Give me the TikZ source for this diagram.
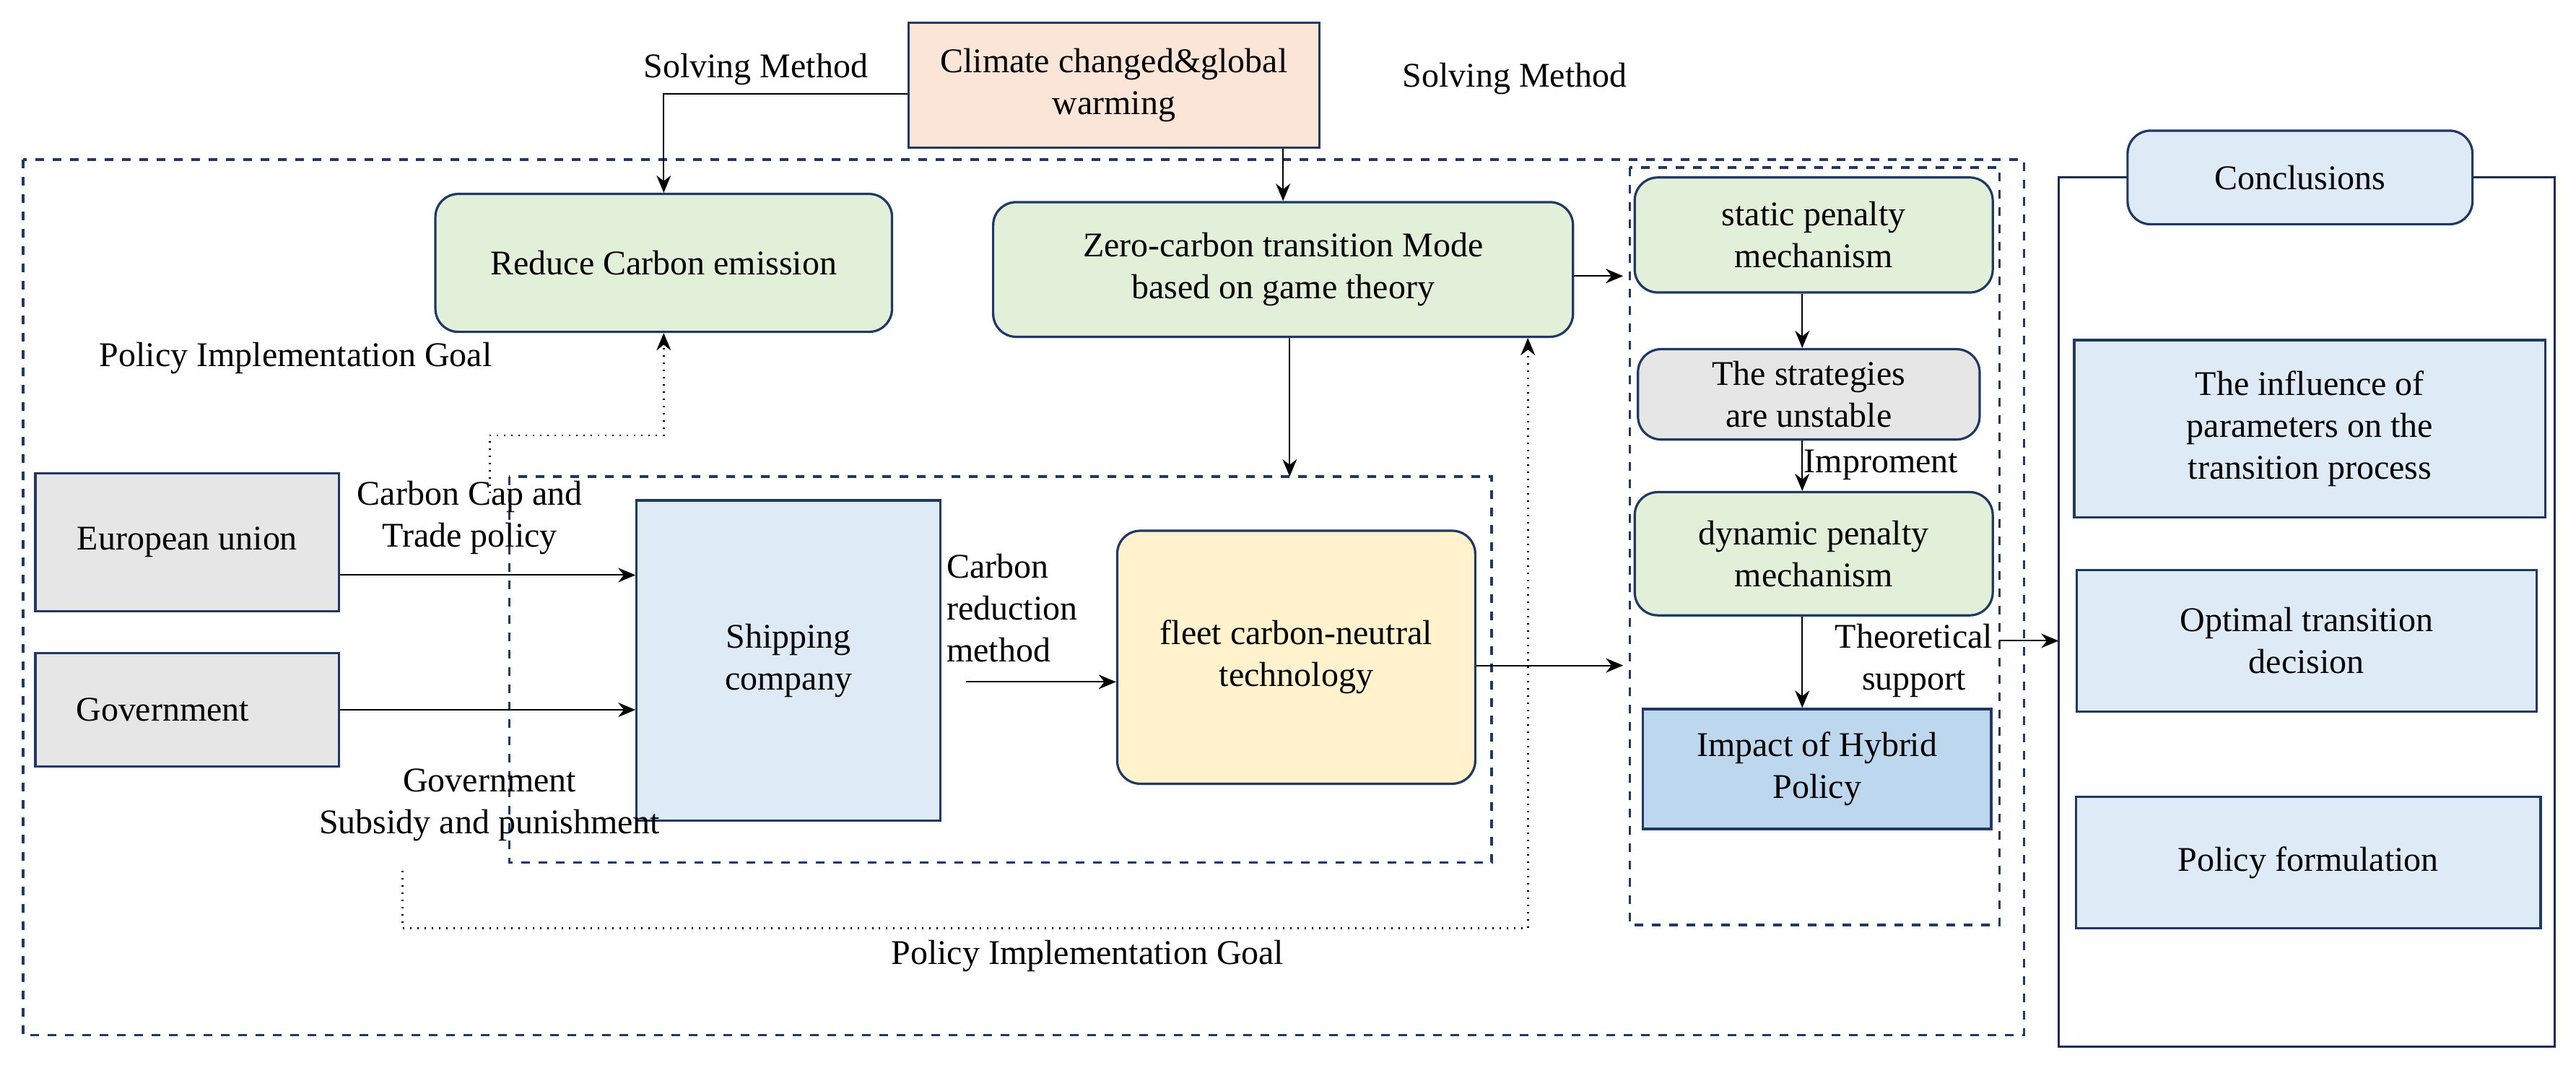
\documentclass[tikz,border=0pt]{standalone}
\usepackage{fontspec}
\setmainfont{Liberation Serif}
\usetikzlibrary{arrows.meta}
\definecolor{dblue}{HTML}{1F3864}
\definecolor{gfill}{HTML}{E2F0D9}
\definecolor{bfill}{HTML}{DEEBF7}
\definecolor{b2fill}{HTML}{BDD7EE}
\definecolor{grfill}{HTML}{E7E6E6}
\definecolor{ofill}{HTML}{FBE5D6}
\definecolor{yfill}{HTML}{FFF2CC}
\begin{document}
\begin{tikzpicture}[x=0.02cm,y=-0.02cm,
  every node/.style={font=\fontsize{12}{14.5}\selectfont,align=center},
  bx/.style={draw=dblue,line width=0.8pt,inner sep=0pt},
  rbx/.style={bx,rounded corners=8pt},
  arr/.style={-{Stealth[length=6pt,width=5pt]},line width=0.5pt},
  dbox/.style={draw=dblue,dashed,line width=0.9pt},
  dot/.style={dotted,line width=0.7pt}]
\useasboundingbox (0,0) rectangle (1568,653);
% dashed frames
\draw[dbox] (14,97) rectangle (1232,630);
\draw[dbox] (310,290) rectangle (908,525);
\draw[dbox] (992,102) rectangle (1217,563);
\draw[draw=dblue!80!black,line width=0.8pt] (1253,108) rectangle (1555,637);
% nodes
\node[bx,fill=ofill,minimum width=5cm,minimum height=1.52cm] (cl) at (678,52) {Climate changed\&global\\warming};
\node[rbx,fill=gfill,minimum width=5.56cm,minimum height=1.68cm] (rc) at (404,160) {Reduce Carbon emission};
\node[rbx,fill=gfill,minimum width=7.06cm,minimum height=1.64cm] (zc) at (781,164) {Zero-carbon transition Mode\\based on game theory};
\node[bx,fill=grfill,minimum width=3.7cm,minimum height=1.68cm] (eu) at (114,330) {European union};
\node[bx,fill=grfill,minimum width=3.7cm,minimum height=1.38cm] (gv) at (114,432) {Government\hspace*{0.6cm}};
\node[bx,fill=bfill,minimum width=3.7cm,minimum height=3.9cm] (sc) at (480,402) {Shipping\\company};
\node[rbx,fill=yfill,minimum width=4.36cm,minimum height=3.08cm] (fl) at (789,400) {fleet carbon-neutral\\technology};
\node[rbx,fill=gfill,minimum width=4.36cm,minimum height=1.4cm] (sp) at (1104,143) {static penalty\\mechanism};
\node[rbx,fill=grfill,minimum width=4.16cm,minimum height=1.1cm] (su) at (1101,240) {The strategies\\are unstable};
\node[rbx,fill=gfill,minimum width=4.36cm,minimum height=1.5cm] (dp) at (1104,337) {dynamic penalty\\mechanism};
\node[bx,fill=b2fill,minimum width=4.24cm,minimum height=1.46cm] (hp) at (1106,468) {Impact of Hybrid\\Policy};
\node[rbx,fill=bfill,minimum width=4.2cm,minimum height=1.14cm] (cc) at (1400,108) {Conclusions};
\node[bx,fill=bfill,minimum width=5.74cm,minimum height=2.16cm] (c1) at (1406,261) {The influence of\\parameters on the\\transition process};
\node[bx,fill=bfill,minimum width=5.6cm,minimum height=1.72cm] (c2) at (1404,390) {Optimal transition\\decision};
\node[bx,fill=bfill,minimum width=5.66cm,minimum height=1.6cm] (c3) at (1405,525) {Policy formulation};
% labels
\node (l1) at (460,42) {Solving Method};
\node (l2) at (922,48) {Solving Method};
\node (l3) at (180,218) {Policy Implementation Goal};
\node (l4) at (286,315) {Carbon Cap and\\Trade policy};
\node (l5) at (298,490) {Government\\Subsidy and punishment};
\node[align=left] (l6) at (616,370) {Carbon\\reduction\\method};
\node (l7) at (662,582) {Policy Implementation Goal};
\node (l8) at (1145,283) {Improment};
\node (l9) at (1165,402) {Theoretical\\support};
% arrows
\draw[arr] (cl.west|-0,57) -| (rc.north);
\draw[arr] (cl.south-|zc.north) -- (zc.north);
\coordinate (ib) at (785,290);
\draw[arr] (zc.south-|ib) -- (ib);
\draw[arr] (eu.east|-0,350) -- (sc.west|-0,350);
\draw[arr] (gv.east) -- (sc.west|-gv.east);
\coordinate (a1) at (588,415); \coordinate (a2) at (fl.west|-a1);
\draw[arr] (a1) -- (a2);
\coordinate (rd) at (988,405);
\draw[arr] (fl.east|-rd) -- (rd);
\coordinate (rz) at (988,168);
\draw[arr] (zc.east|-rz) -- (rz);
\draw[arr] (sp.south-|1097,0) -- (su.north-|1097,0);
\draw[arr] (su.south-|1097,0) -- (dp.north-|1097,0);
\draw[arr] (dp.south-|1097,0) -- (hp.north-|1097,0);
\coordinate (rr) at (1217,390); \coordinate (cr) at (1253,390);
\draw[arr] (rr) -- (cr);
\coordinate (d1) at (298,300);
\draw[arr,dot] (d1) -- (298,265) -| (rc.south);
\coordinate (d2) at (245,530);
\draw[arr,dot] (d2) -- (245,565) -| (zc.south-|930,0);
\end{tikzpicture}
\end{document}
